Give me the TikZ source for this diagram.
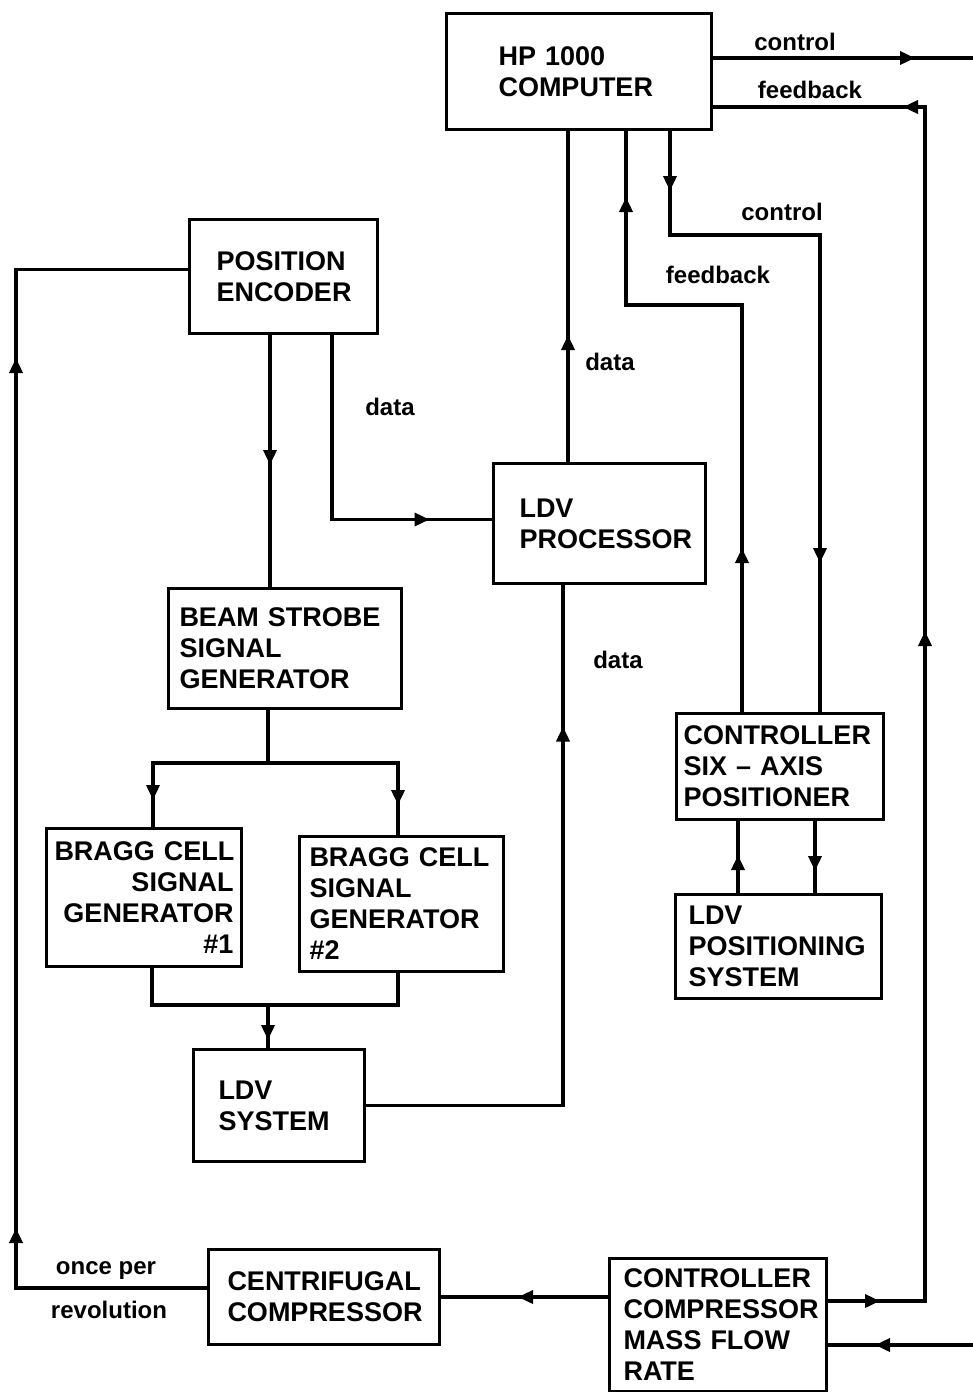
\documentclass[tikz,border=0pt]{standalone}
\usepackage{fontspec}
\setmainfont{Liberation Sans}
\usetikzlibrary{arrows.meta,calc,decorations.markings}

\tikzset{
  box/.style={draw, line width=3pt, anchor=north west, align=left, inner ysep=0pt,
    font=\fontsize{27}{31}\selectfont\bfseries},
  wire/.style={line width=3.5pt, line join=miter},
  lbl/.style={font=\fontsize{24}{28}\selectfont\bfseries},
  tip at/.style={postaction={decorate, decoration={markings,
    mark=at position #1 with {\arrow{Triangle[length=15pt,width=13pt]}}}}},
}

\begin{document}
\begin{tikzpicture}[x=1pt, y=-1pt]
  \useasboundingbox (0,0) rectangle (973,1392);

  % blocks
  \node[box, minimum width=265pt, minimum height=116pt, text width=161pt, inner xsep=52pt] (hp) at (445,12) {HP 1000\\COMPUTER};
  \node[box, minimum width=188pt, minimum height=114pt, text width=134pt, inner xsep=27pt] (enc) at (188,218) {POSITION\\ENCODER};
  \node[box, minimum width=212pt, minimum height=120pt, text width=160pt, inner xsep=26pt] (ldvp) at (492,462) {LDV\\PROCESSOR};
  \node[box, minimum width=233pt, minimum height=120pt, text width=211pt, inner xsep=11pt] (beam) at (167,587) {BEAM~STROBE\\SIGNAL\\GENERATOR};
  \node[box, align=right, minimum width=195pt, minimum height=138pt, text width=179pt, inner xsep=8pt] (bragg1) at (45,827) {BRAGG~CELL\\SIGNAL\\GENERATOR\\\#1};
  \node[box, minimum width=204pt, minimum height=135pt, text width=184pt, inner xsep=10pt] (bragg2) at (298,835) {BRAGG~CELL\\SIGNAL\\GENERATOR\\\#2};
  \node[box, minimum width=171pt, minimum height=112pt, text width=121pt, inner xsep=25pt] (ldvs) at (192,1048) {LDV\\SYSTEM};
  \node[box, minimum width=207pt, minimum height=106pt, text width=193pt, inner xsep=7pt] (six) at (675,712) {CONTROLLER\\SIX~–~AXIS\\POSITIONER};
  \node[box, minimum width=206pt, minimum height=104pt, text width=180pt, inner xsep=13pt] (ldvpos) at (674,893) {LDV\\POSITIONING\\SYSTEM};
  \node[box, minimum width=231pt, minimum height=95pt, text width=193pt, inner xsep=19pt] (cent) at (207,1248) {CENTRIFUGAL\\COMPRESSOR};
  \node[box, minimum width=217pt, minimum height=133pt, text width=189pt, inner xsep=14pt] (ctrl) at (608,1257) {CONTROLLER\\COMPRESSOR\\MASS~FLOW\\RATE};

  % corner points
  \coordinate (fbk) at (626,305);
  \coordinate (ctl) at (820,235);
  \coordinate (ctlout) at (973,58);
  \coordinate (fbin) at (925,107);
  \coordinate (ctlin) at (973,1345);
  \coordinate (lft) at (16,1288);
  \coordinate (spl) at (268,763);
  \coordinate (mrg) at (268,1005);

  % computer links
  \draw[wire, tip at=127pt] ([xshift=76pt]ldvp.north west) -- ([xshift=76pt]ldvp.north west |- hp.south);
  \draw[wire, tip at=164pt, tip at=631pt] ([xshift=67pt]six.north west) |- (fbk) -- (fbk |- hp.south);
  \draw[wire, tip at=60pt, tip at=582pt] ([xshift=225pt]hp.south west) |- (ctl) -- (ctl |- six.north);
  \draw[wire, tip at=202pt] (hp.east |- ctlout) -- (ctlout);
  \draw[wire, tip at=52pt, tip at=767pt, tip at=1313pt] ([yshift=24pt]ctrl.east) -| (fbin) -- (fbin -| hp.east);
  \draw[wire, tip at=98pt] (ctlin) -- (ctlin -| ctrl.east);

  % compressor loop
  \draw[wire, tip at=90pt] (ctrl.west |- cent.east) -- (cent.east);
  \draw[wire, tip at=251pt, tip at=1121pt] (lft -| cent.west) -- (lft) |- ([yshift=7pt]enc.west);

  % encoder and beam strobe
  \draw[wire, tip at=130pt] ([xshift=82pt]enc.south west) -- ([xshift=82pt]enc.south west |- beam.north);
  \draw[wire, tip at=282pt] ([xshift=144pt]enc.south west) |- ([yshift=4pt]ldvp.west);
  \draw[wire] ([xshift=101pt]beam.south west) -- (spl);
  \draw[wire, tip at=152pt] (spl) -| ([xshift=108pt]bragg1.north west);
  \draw[wire, tip at=172pt] (spl) -| ([xshift=100pt]bragg2.north west);
  \draw[wire] ([xshift=107pt]bragg1.south west) |- (mrg) -| ([xshift=100pt]bragg2.south west);
  \draw[wire, tip at=35pt] (mrg) -- (mrg |- ldvs.north);
  \draw[wire, tip at=576pt] (ldvs.east) -| ([xshift=71pt]ldvp.south west);

  % positioner
  \draw[wire, tip at=38pt] ([xshift=64pt]ldvpos.north west) -- ([xshift=64pt]ldvpos.north west |- six.south);
  \draw[wire, tip at=50pt] ([xshift=140pt]six.south west) -- ([xshift=140pt]six.south west |- ldvpos.north);

  % labels
  \node[lbl] (lctl1) at (795,42) {control};
  \node[lbl] (lfbk1) at (810,90) {feedback};
  \node[lbl] (lctl2) at (782,212) {control};
  \node[lbl] (lfbk2) at (718,275) {feedback};
  \node[lbl] (ldat1) at (610,362) {data};
  \node[lbl] (ldat2) at (390,407) {data};
  \node[lbl] (ldat3) at (618,660) {data};
  \node[lbl] (lonce) at (106,1270) {once per};
  \node[lbl] (lrev) at (109,1310) {revolution};
\end{tikzpicture}
\end{document}
